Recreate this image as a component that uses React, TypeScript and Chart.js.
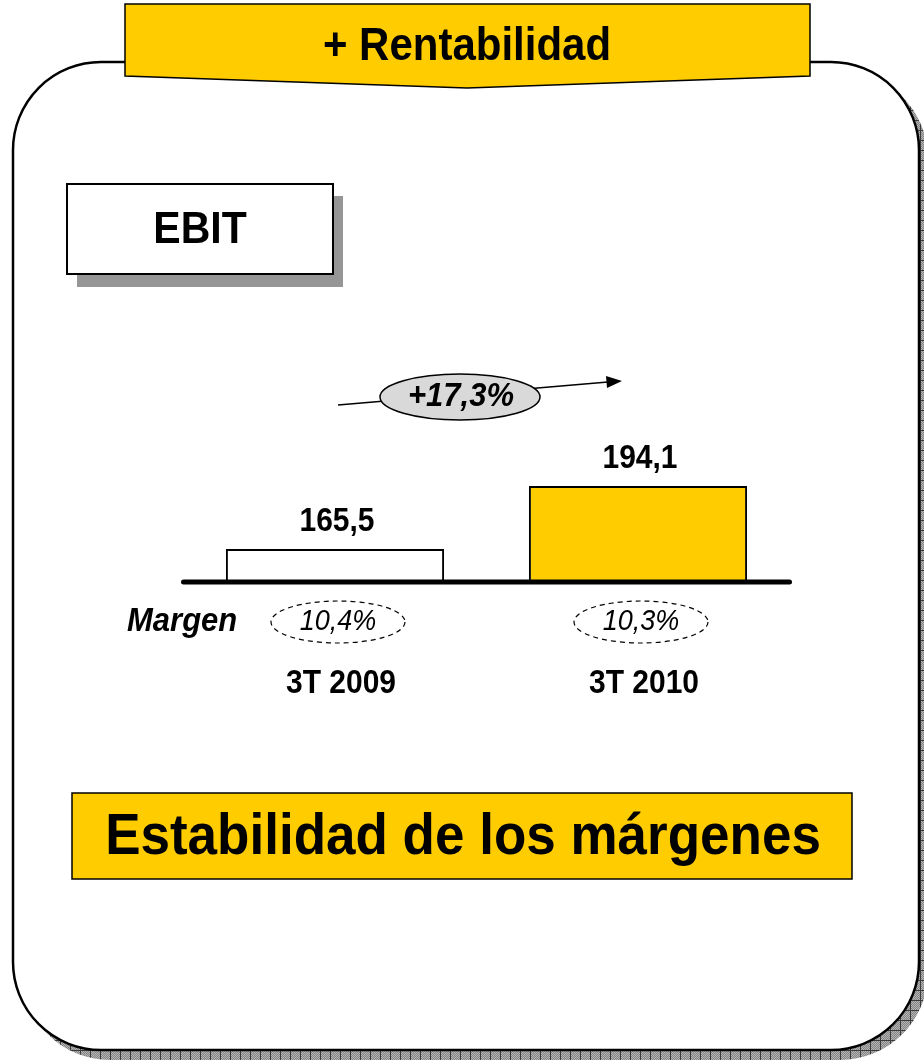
import { useEffect, useRef } from 'react';
import { Chart, registerables } from 'chart.js';
Chart.register(...registerables);

const categories = ['3T 2009', '3T 2010'];
const ebitValues = [165.5, 194.1];
const valueLabels = ['165,5', '194,1'];
const marginLabels = ['10,4%', '10,3%'];
const growthLabel = '+17,3%';
const headerText = '+ Rentabilidad';
const boxTitle = 'EBIT';
const marginTitle = 'Margen';
const footerText = 'Estabilidad de los márgenes';
const barColors = ['#ffffff', '#FFCC00'];

const FONT = "'Liberation Sans', Arial, sans-serif";
const YELLOW = '#FFCC00';
const SY = 1.1;

function roundRect(ctx: CanvasRenderingContext2D, x: number, y: number, w: number, h: number, r: number) {
  ctx.beginPath();
  ctx.moveTo(x + r, y);
  ctx.lineTo(x + w - r, y);
  ctx.arcTo(x + w, y, x + w, y + r, r);
  ctx.lineTo(x + w, y + h - r);
  ctx.arcTo(x + w, y + h, x + w - r, y + h, r);
  ctx.lineTo(x + r, y + h);
  ctx.arcTo(x, y + h, x, y + h - r, r);
  ctx.lineTo(x, y + r);
  ctx.arcTo(x, y, x + r, y, r);
  ctx.closePath();
}

function text(ctx: CanvasRenderingContext2D, s: string, x: number, y: number, font: string, align: CanvasTextAlign = 'center') {
  ctx.save();
  ctx.font = font;
  ctx.textAlign = align;
  ctx.textBaseline = 'middle';
  ctx.fillStyle = '#000';
  ctx.translate(x, y);
  ctx.scale(1, SY);
  ctx.fillText(s, 0, 0);
  ctx.restore();
}

function makePattern(ctx: CanvasRenderingContext2D) {
  const c = document.createElement('canvas');
  c.width = 10; c.height = 10;
  const p = c.getContext('2d')!;
  for (let i = 0; i < 10; i++) {
    for (let j = 0; j < 10; j++) {
      p.fillStyle = (i + j) % 2 === 0 ? '#b4b4b4' : '#858585';
      p.fillRect(i, j, 1, 1);
    }
  }
  p.fillStyle = '#3a3a3a';
  p.fillRect(0, 0, 10, 1);
  p.fillRect(0, 0, 1, 10);
  return ctx.createPattern(c, 'repeat')!;
}

const slidePlugin = {
  id: 'slide',
  beforeDraw(chart: any) {
    const ctx: CanvasRenderingContext2D = chart.ctx;
    ctx.save();
    ctx.fillStyle = '#ffffff';
    ctx.fillRect(0, 0, chart.width, chart.height);

    // hatched shadow of main rounded box
    roundRect(ctx, 22, 71, 906, 989, 88);
    ctx.fillStyle = makePattern(ctx);
    ctx.fill();
    // main rounded box
    roundRect(ctx, 13, 62, 906, 988, 88);
    ctx.fillStyle = '#ffffff';
    ctx.fill();
    ctx.lineWidth = 2.5;
    ctx.strokeStyle = '#000000';
    ctx.stroke();

    // header banner
    ctx.beginPath();
    ctx.moveTo(125, 4);
    ctx.lineTo(810, 4);
    ctx.lineTo(810, 76);
    ctx.lineTo(467, 88);
    ctx.lineTo(125, 76);
    ctx.closePath();
    ctx.fillStyle = YELLOW;
    ctx.fill();
    ctx.lineWidth = 1.5;
    ctx.strokeStyle = '#000';
    ctx.stroke();
    text(ctx, headerText, 467, 47, `bold 42px ${FONT}`);

    // EBIT box
    ctx.fillStyle = '#969696';
    ctx.fillRect(77, 196, 266, 91);
    ctx.fillStyle = '#fff';
    ctx.fillRect(67, 184, 266, 90);
    ctx.lineWidth = 2;
    ctx.strokeStyle = '#000';
    ctx.strokeRect(67, 184, 266, 90);
    text(ctx, boxTitle, 200, 231, `bold 41px ${FONT}`);

    // footer box
    ctx.fillStyle = YELLOW;
    ctx.fillRect(72, 793, 780, 86);
    ctx.lineWidth = 1.5;
    ctx.strokeStyle = '#000';
    ctx.strokeRect(72, 793, 780, 86);
    text(ctx, footerText, 463, 838, `bold 53px ${FONT}`);

    // growth arrow
    ctx.beginPath();
    ctx.moveTo(338, 405);
    ctx.lineTo(608, 382);
    ctx.lineWidth = 1.5;
    ctx.stroke();
    ctx.beginPath();
    ctx.moveTo(622, 381);
    ctx.lineTo(606, 376);
    ctx.lineTo(607, 388);
    ctx.closePath();
    ctx.fillStyle = '#000';
    ctx.fill();
    ctx.beginPath();
    ctx.ellipse(460, 397, 80, 23, 0, 0, Math.PI * 2);
    ctx.fillStyle = '#d9d9d9';
    ctx.fill();
    ctx.lineWidth = 1.5;
    ctx.stroke();
    text(ctx, growthLabel, 461, 397, `italic bold 31px ${FONT}`);
    ctx.restore();
  },
  afterDatasetsDraw(chart: any) {
    const ctx: CanvasRenderingContext2D = chart.ctx;
    const area = chart.chartArea;
    const yBase = chart.scales.y.getPixelForValue(chart.scales.y.min);
    const bars = chart.getDatasetMeta(0).data;
    ctx.save();
    // baseline
    ctx.beginPath();
    ctx.moveTo(area.left, yBase);
    ctx.lineTo(area.right, yBase);
    ctx.lineWidth = 5;
    ctx.lineCap = 'round';
    ctx.strokeStyle = '#000';
    ctx.stroke();
    ctx.lineCap = 'butt';

    bars.forEach((b: any, i: number) => {
      text(ctx, valueLabels[i], b.x + 2, b.y - 27, `bold 30px ${FONT}`);
      // margin ellipse
      const cx = b.x + 3;
      ctx.beginPath();
      ctx.ellipse(cx, yBase + 40, 67, 21, 0, 0, Math.PI * 2);
      ctx.setLineDash([5, 4]);
      ctx.lineWidth = 1.2;
      ctx.strokeStyle = '#000';
      ctx.stroke();
      ctx.setLineDash([]);
      text(ctx, marginLabels[i], cx, yBase + 40, `italic 27px ${FONT}`);
      text(ctx, categories[i], b.x + 6, yBase + 102, `bold 30px ${FONT}`);
    });
    text(ctx, marginTitle, 127, yBase + 40, `italic bold 31px ${FONT}`, 'left');
    ctx.restore();
  },
};

export default function App() {
  const ref = useRef<HTMLCanvasElement>(null);
  useEffect(() => {
    const chart = new Chart(ref.current!, {
      type: 'bar',
      data: {
        labels: categories,
        datasets: [
          {
            data: ebitValues,
            backgroundColor: barColors,
            borderColor: '#000000',
            borderWidth: 2,
            barPercentage: 0.72,
            categoryPercentage: 1,
          },
        ],
      },
      options: {
        responsive: false,
        animation: false,
        devicePixelRatio: 1,
        layout: { padding: { left: 183.5, right: 134.5, top: 362, bottom: 482 } },
        scales: {
          x: { display: false },
          y: { display: false, min: 150.5, max: 250.5 },
        },
        plugins: { legend: { display: false }, tooltip: { enabled: false } },
      },
      plugins: [slidePlugin],
    });
    return () => chart.destroy();
  }, []);
  return (
    <div style={{ position: 'absolute', left: 0, top: 0, width: 924, height: 1064 }}>
      <canvas ref={ref} width={924} height={1064} />
    </div>
  );
}
